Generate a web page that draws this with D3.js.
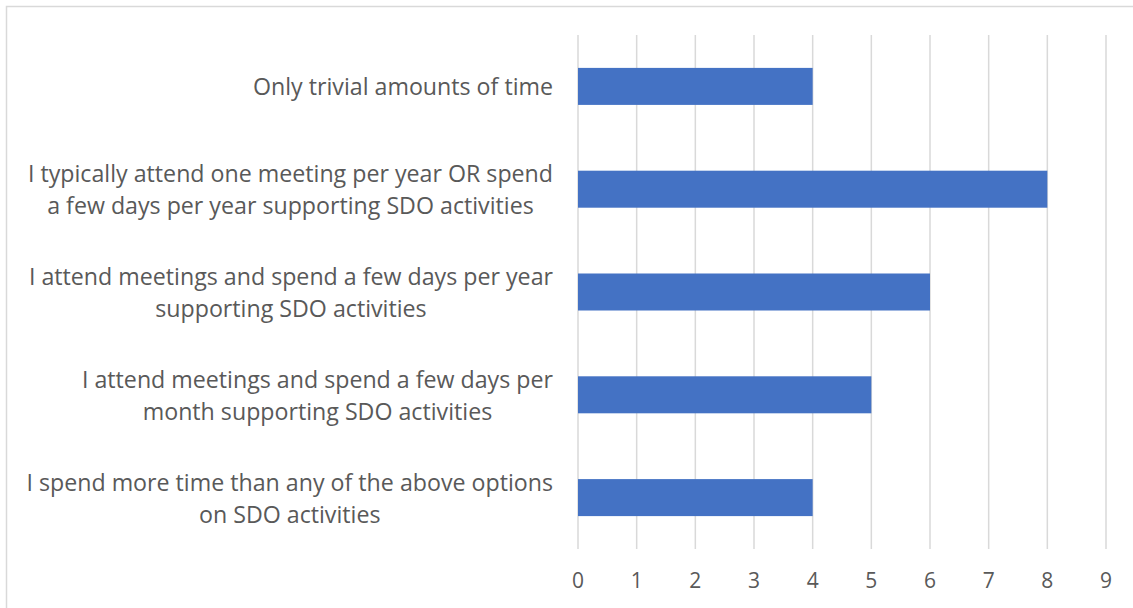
<!DOCTYPE html>
<html>
<head>
<meta charset="utf-8">
<script src="https://cdn.jsdelivr.net/npm/d3@7"></script>
<style>
  body { margin: 0; background: #fff; }
  svg { display: block; font-family: "Open Sans", sans-serif; }
</style>
</head>
<body>
<svg width="1133" height="608"></svg>
<script>
// survey answers, one entry per bar (top to bottom)
var categories = [
  ["Only trivial amounts of time"],
  ["I typically attend one meeting per year OR spend", "a few days per year supporting SDO activities"],
  ["I attend meetings and spend a few days per year", "supporting SDO activities"],
  ["I attend meetings and spend a few days per", "month supporting SDO activities"],
  ["I spend more time than any of the above options", "on SDO activities"]
];
var values = [4, 8, 6, 5, 4];
var xTicks = [0, 1, 2, 3, 4, 5, 6, 7, 8, 9];

var svg = d3.select("svg");
var textColor = "#595959";

// outer chart border
svg.append("rect")
  .attr("x", 6.5).attr("y", 6.5)
  .attr("width", 1140).attr("height", 620)
  .attr("fill", "none")
  .attr("stroke", "#d9d9d9")
  .attr("stroke-width", 1.5);

var x = d3.scaleLinear().domain([0, 9]).range([578, 1106]);
var y = d3.scaleBand()
  .domain(d3.range(categories.length))
  .range([35, 549])
  .paddingInner(0.64)
  .paddingOuter(0.32);

// gridlines
svg.append("g")
  .selectAll("line")
  .data(xTicks)
  .enter()
  .append("line")
  .attr("x1", d => x(d)).attr("x2", d => x(d))
  .attr("y1", 35).attr("y2", 549)
  .attr("stroke", "#d9d9d9")
  .attr("stroke-width", 1.5);

// bars
svg.append("g")
  .selectAll("rect")
  .data(values)
  .enter()
  .append("rect")
  .attr("x", x(0))
  .attr("y", (d, i) => y(i))
  .attr("width", d => x(d) - x(0))
  .attr("height", y.bandwidth())
  .attr("fill", "#4472c4");

// x tick labels
svg.append("g")
  .selectAll("text")
  .data(xTicks)
  .enter()
  .append("text")
  .attr("x", d => x(d))
  .attr("y", 580)
  .attr("text-anchor", "middle")
  .attr("dominant-baseline", "central")
  .attr("font-size", 21)
  .attr("fill", textColor)
  .text(d => d);

// category labels: block right-aligned, lines centred inside the block
var lineH = 32;
var rightEdge = 553;
var targetWidth = 527; // width of the longest label line in the original

// find a font size so the longest line fills the original width
var probe = svg.append("text").attr("font-size", 20);
var longest = d3.max(categories.flat(), function (ln) {
  probe.text(ln);
  return probe.node().getComputedTextLength();
});
probe.remove();
var fontSize = 20 * targetWidth / longest;

var labels = svg.append("g");

labels.selectAll("g")
  .data(categories)
  .enter()
  .append("g")
  .each(function (lines, i) {
    var g = d3.select(this);
    var cy = y(i) + y.bandwidth() / 2;
    var texts = lines.map(function (ln, k) {
      return g.append("text")
        .attr("y", cy + (k - (lines.length - 1) / 2) * lineH)
        .attr("dominant-baseline", "central")
        .attr("text-anchor", "middle")
        .attr("font-size", fontSize)
        .attr("fill", textColor)
        .text(ln);
    });
    var w = d3.max(texts, t => t.node().getComputedTextLength());
    texts.forEach(t => t.attr("x", rightEdge - w / 2));
  });
</script>
</body>
</html>
